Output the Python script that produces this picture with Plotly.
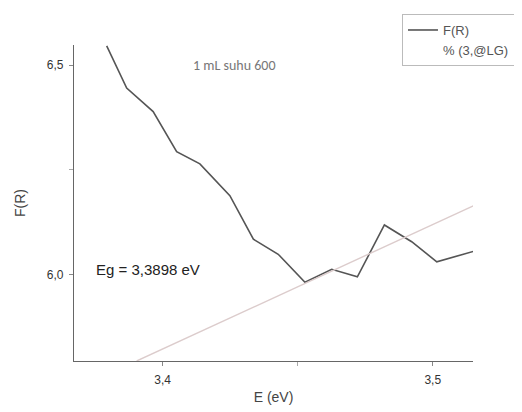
import plotly.graph_objects as go

# Data
E_eV = [3.3793, 3.3867, 3.3965, 3.4052, 3.4138, 3.4249, 3.4336, 3.4428,
        3.4527, 3.4626, 3.4721, 3.4821, 3.4922, 3.5015, 3.5151]
F_R = [6.546, 6.445, 6.389, 6.293, 6.264, 6.188, 6.084, 6.048,
       5.981, 6.012, 5.994, 6.118, 6.078, 6.030, 6.055]

fit_E = [3.3904, 3.5151]
fit_F = [5.793, 6.164]

y_tickvals = [6.0, 6.5]
y_ticktext = ["6,0", "6,5"]
x_tickvals = [3.4, 3.5]
x_ticktext = ["3,4", "3,5"]

font_family = "Liberation Sans, Arial, sans-serif"

fig = go.Figure()
fig.add_trace(go.Scatter(x=E_eV, y=F_R, mode="lines", name="F(R)",
                         line=dict(color="#555555", width=1.6)))
fig.add_trace(go.Scatter(x=fit_E, y=fit_F, mode="lines", name="% (3,@LG)",
                         showlegend=False,
                         line=dict(color="#dccccc", width=1.4)))
# legend entry for the fit line (sample nearly invisible, as in the reference)
fig.add_trace(go.Scatter(x=[None], y=[None], mode="lines", name="% (3,@LG)",
                         line=dict(color="#ffffff", width=1)))

axis_common = dict(showline=True, linecolor="#666666", linewidth=1.3,
                   ticks="outside", ticklen=4, tickcolor="#888888",
                   showgrid=False, zeroline=False, automargin=False,
                   ticklabelstandoff=3,
                   tickfont=dict(size=12, color="#333333", family=font_family))

fig.update_xaxes(range=[3.3672, 3.5149], tickvals=x_tickvals, ticktext=x_ticktext,
                 minor=dict(tickvals=[3.45], ticks="outside", ticklen=4, tickcolor="#aaaaaa"),
                 title=dict(text="E (eV)", font=dict(size=14, color="#444444", family=font_family),
                            standoff=6),
                 **axis_common)
fig.update_yaxes(range=[5.793, 6.548], tickvals=y_tickvals, ticktext=y_ticktext,
                 minor=dict(tickvals=[6.25], ticks="outside", ticklen=4, tickcolor="#aaaaaa"),
                 title=dict(text="F(R)", font=dict(size=14, color="#444444", family=font_family),
                            standoff=17),
                 **axis_common)

fig.add_annotation(text="1 mL suhu 600", x=3.4266, y=6.5, xref="x", yref="y",
                   showarrow=False, font=dict(size=14, color="#777777", family="Carlito, Calibri, Noto Sans, sans-serif"))
fig.add_annotation(text="Eg = 3,3898 eV", x=3.3746, y=6.012, xref="x", yref="y",
                   xanchor="left", showarrow=False,
                   font=dict(size=15, color="#222222", family=font_family))

# the page body adds an 8px offset, so the figure is sized to fit the 522x412 window
fig.update_layout(
    width=514, height=404,
    margin=dict(l=66, r=49, t=37, b=51, autoexpand=False),
    paper_bgcolor="white", plot_bgcolor="white",
    font=dict(family=font_family, color="#444444"),
    showlegend=True,
    legend=dict(x=0.822, y=1.098, xanchor="left", yanchor="top",
                bordercolor="#bbbbbb", borderwidth=1, bgcolor="white",
                font=dict(size=13, color="#555555"),
                tracegroupgap=0, itemwidth=30),
)

fig.write_html("out.html")
